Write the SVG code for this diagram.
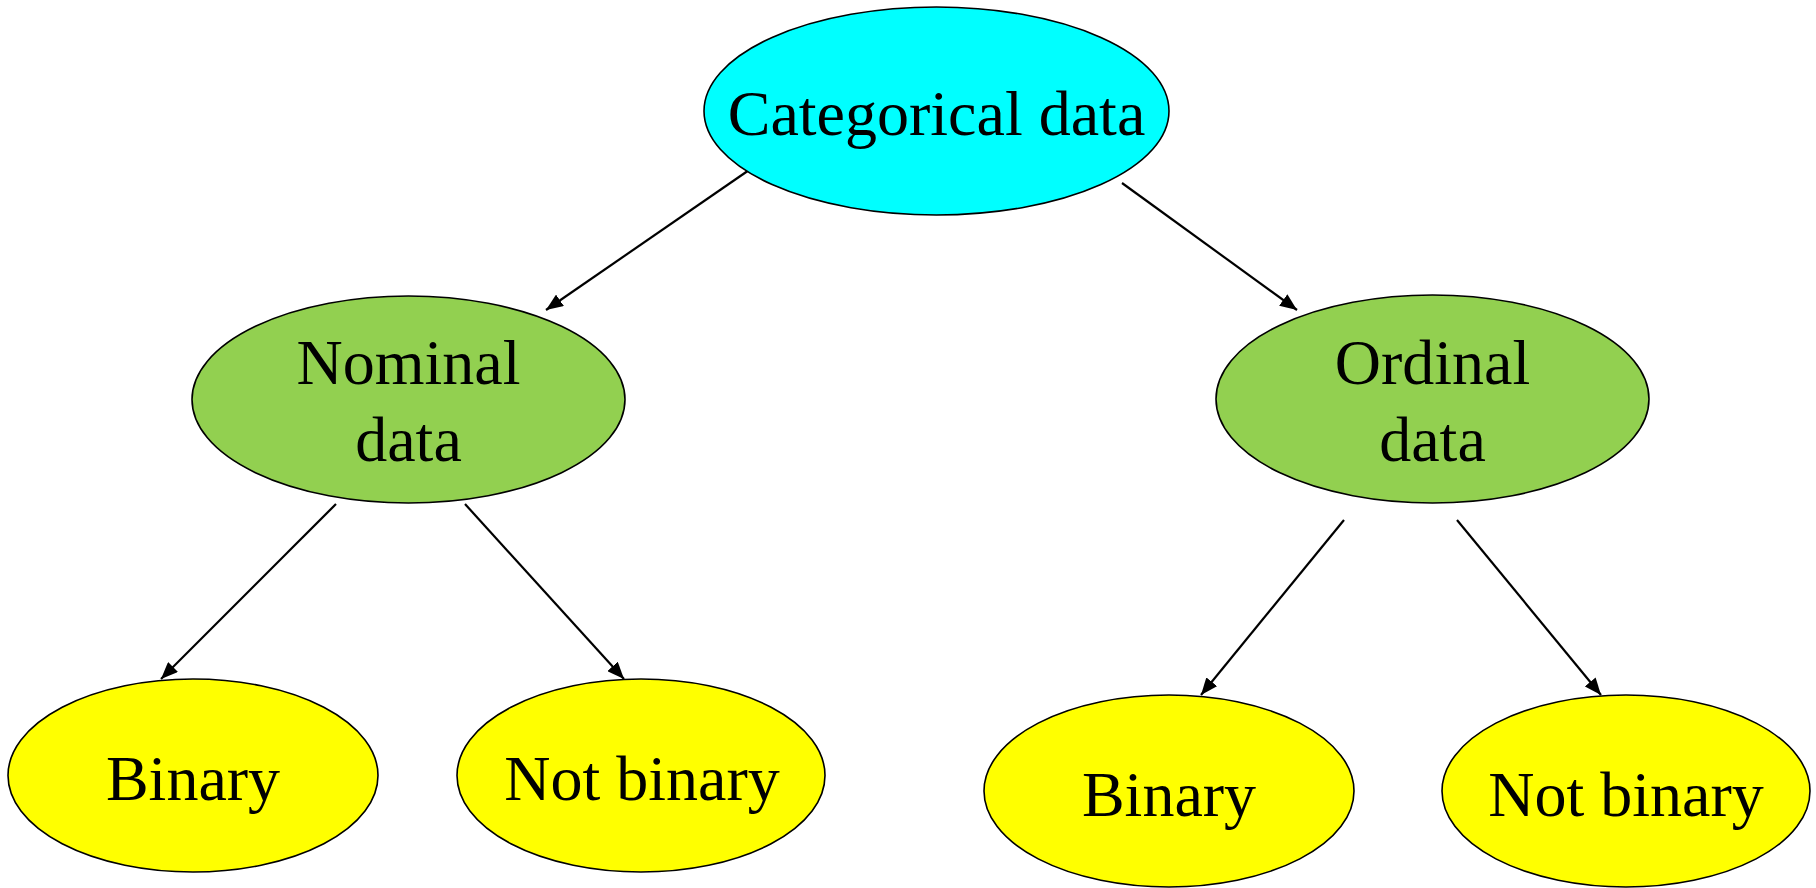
<svg xmlns="http://www.w3.org/2000/svg" width="1816" height="888" viewBox="0 0 1816 888">
<style>
.n{stroke:#000;stroke-width:1.6}
.t{font-family:"Liberation Serif","Times New Roman",serif;font-size:64px;fill:#000;text-anchor:middle}
.c{stroke:#000;stroke-width:2.2;fill:none;marker-end:url(#ah)}
</style>
<defs>
<marker id="ah" markerUnits="userSpaceOnUse" markerWidth="18" markerHeight="14" refX="17" refY="7" orient="auto">
<path d="M0,0 L17,7 L0,14 z" fill="#000"/>
</marker>
</defs>
<rect width="1816" height="888" fill="#fff"/>
<g id="connectors">
<line class="c" x1="752" y1="168" x2="546" y2="310"/>
<line class="c" x1="1122" y1="183" x2="1297" y2="310"/>
<line class="c" x1="336" y1="504" x2="161" y2="679"/>
<line class="c" x1="465" y1="504" x2="624" y2="679"/>
<line class="c" x1="1344" y1="520" x2="1201" y2="695"/>
<line class="c" x1="1457" y1="520" x2="1601" y2="695"/>
</g>
<g id="categorical">
<ellipse class="n" cx="936.5" cy="111" rx="232.5" ry="104" fill="#00FFFF"/>
<text class="t" x="936.5" y="135">Categorical data</text>
</g>
<g id="nominal">
<ellipse class="n" cx="408.5" cy="399.5" rx="216.5" ry="103.5" fill="#92D050"/>
<text class="t" x="408.5" y="384">Nominal</text>
<text class="t" x="408.5" y="461">data</text>
</g>
<g id="ordinal">
<ellipse class="n" cx="1432.5" cy="399" rx="216.5" ry="104" fill="#92D050"/>
<text class="t" x="1432.5" y="384">Ordinal</text>
<text class="t" x="1432.5" y="461">data</text>
</g>
<g id="nominal-binary">
<ellipse class="n" cx="193" cy="775.5" rx="185" ry="96.5" fill="#FFFF00"/>
<text class="t" x="193" y="800">Binary</text>
</g>
<g id="nominal-notbinary">
<ellipse class="n" cx="641" cy="775.5" rx="184" ry="96.5" fill="#FFFF00"/>
<text class="t" x="642" y="800">Not binary</text>
</g>
<g id="ordinal-binary">
<ellipse class="n" cx="1169" cy="791" rx="185" ry="96" fill="#FFFF00"/>
<text class="t" x="1169" y="816">Binary</text>
</g>
<g id="ordinal-notbinary">
<ellipse class="n" cx="1626" cy="791" rx="184" ry="96" fill="#FFFF00"/>
<text class="t" x="1626" y="816">Not binary</text>
</g>
</svg>
